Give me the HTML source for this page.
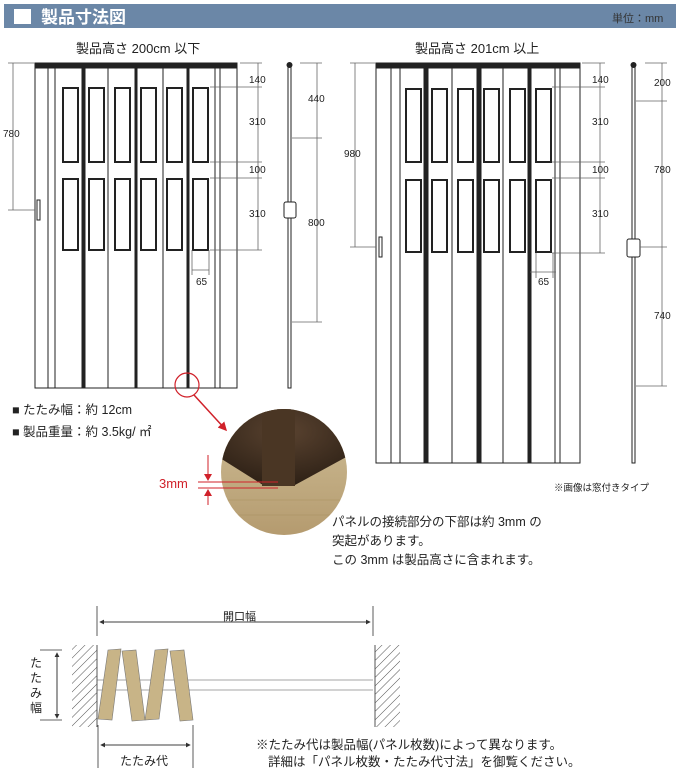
<!DOCTYPE html>
<html><head><meta charset="utf-8"><style>
body{margin:0;background:#fff;width:680px;height:772px;overflow:hidden;font-family:"Liberation Sans","Noto Sans CJK JP",sans-serif}
svg text{font-family:"Liberation Sans","Noto Sans CJK JP",sans-serif}
</style></head><body>
<svg width="680" height="772" viewBox="0 0 680 772" xmlns="http://www.w3.org/2000/svg">
<defs>
<pattern id="h" width="6" height="6" patternUnits="userSpaceOnUse" patternTransform="rotate(45)"><line x1="0" y1="0" x2="0" y2="6" stroke="#555" stroke-width="1"/></pattern>
<radialGradient id="dk" cx="0.5" cy="0.3" r="0.7"><stop offset="0" stop-color="#5a4330"/><stop offset="1" stop-color="#2e2116"/></radialGradient>
<linearGradient id="wd" x1="0" y1="0" x2="0" y2="1"><stop offset="0" stop-color="#cfbf98"/><stop offset="1" stop-color="#b49a6e"/></linearGradient>
<clipPath id="cc"><circle cx="284" cy="472" r="63"/></clipPath>
<marker id="ar" markerWidth="6" markerHeight="6" refX="5" refY="3" orient="auto"><path d="M0,0 L6,3 L0,6 z" fill="#333"/></marker>
<marker id="ra" markerWidth="6" markerHeight="6" refX="5" refY="3" orient="auto"><path d="M0,0 L6,3 L0,6 z" fill="#d0212a"/></marker>
</defs>
<!-- header -->
<rect x="4" y="4" width="672" height="24" fill="#6b87a7"/>
<rect x="14" y="9" width="17" height="15" fill="#fff"/>
<text x="41" y="23" font-size="17" font-weight="bold" fill="#fff">製品寸法図</text>
<text x="612" y="22" font-size="11" fill="#333">単位：mm</text>

<text x="76" y="53" font-size="13" fill="#222">製品高さ 200cm 以下</text>
<text x="415" y="53" font-size="13" fill="#222">製品高さ 201cm 以上</text>

<g stroke="#222" fill="none" stroke-width="1">
<!-- left door -->
<rect x="35" y="63" width="202" height="325" fill="#fff"/>
<rect x="35" y="63" width="202" height="5" fill="#222"/>
<path d="M48 68V388M55 68V388M108 68V388M163 68V388M215 68V388M220 68V388"/>
<rect x="82" y="68" width="3" height="320" fill="#222"/>
<rect x="135" y="68" width="2" height="320" fill="#222"/>
<rect x="187" y="68" width="2" height="320" fill="#222"/>
<g stroke-width="2">
<rect x="63" y="88" width="15" height="74"/><rect x="89" y="88" width="15" height="74"/><rect x="115" y="88" width="15" height="74"/><rect x="141" y="88" width="15" height="74"/><rect x="167" y="88" width="15" height="74"/><rect x="193" y="88" width="15" height="74"/>
<rect x="63" y="179" width="15" height="71"/><rect x="89" y="179" width="15" height="71"/><rect x="115" y="179" width="15" height="71"/><rect x="141" y="179" width="15" height="71"/><rect x="167" y="179" width="15" height="71"/><rect x="193" y="179" width="15" height="71"/>
</g>
<rect x="37" y="200" width="3" height="20" fill="#fff"/>
<path d="M13 63V210M8 63H35M8 210H35" stroke="#666" stroke-width="0.8"/>
<path d="M258 63V250M240 63H262M210 87H262M210 162H262M210 178H262M210 250H262M192 250V275M209 250V275M192 270H209" stroke="#666" stroke-width="0.8"/>
<!-- left side -->
<rect x="288" y="66" width="3" height="322" fill="#fff"/>
<circle cx="289.5" cy="65" r="2.5" fill="#222"/>
<rect x="284" y="202" width="12" height="16" rx="2" fill="#fff"/>
<path d="M317 63V322M300 63H322M292 138H322M292 322H322" stroke="#666" stroke-width="0.8"/>
<!-- right door -->
<rect x="376" y="63" width="204" height="400" fill="#fff"/>
<rect x="376" y="63" width="204" height="5" fill="#222"/>
<path d="M391 68V463M400 68V463M452 68V463M503 68V463M555 68V463M560 68V463"/>
<rect x="424" y="68" width="4" height="395" fill="#222"/>
<rect x="477" y="68" width="4" height="395" fill="#222"/>
<rect x="528" y="68" width="3" height="395" fill="#222"/>
<g stroke-width="2">
<rect x="406" y="89" width="15" height="73"/><rect x="432" y="89" width="15" height="73"/><rect x="458" y="89" width="15" height="73"/><rect x="484" y="89" width="15" height="73"/><rect x="510" y="89" width="15" height="73"/><rect x="536" y="89" width="15" height="73"/>
<rect x="406" y="180" width="15" height="72"/><rect x="432" y="180" width="15" height="72"/><rect x="458" y="180" width="15" height="72"/><rect x="484" y="180" width="15" height="72"/><rect x="510" y="180" width="15" height="72"/><rect x="536" y="180" width="15" height="72"/>
</g>
<rect x="379" y="237" width="3" height="20" fill="#fff"/>
<path d="M355 63V247M350 63H376M350 247H376" stroke="#666" stroke-width="0.8"/>
<path d="M600 63V253M582 63H605M552 87H605M552 162H605M552 178H605M552 253H605M536 253V278M553 253V278M530 272H556" stroke="#666" stroke-width="0.8"/>
<!-- right side -->
<rect x="632" y="66" width="3" height="397" fill="#fff"/>
<circle cx="633.5" cy="65" r="2.5" fill="#222"/>
<rect x="627" y="239" width="13" height="18" rx="2" fill="#fff"/>
<path d="M662 63V386M645 63H667M636 101H667M640 247H667M636 386H667" stroke="#666" stroke-width="0.8"/>
</g>
<g font-size="10" fill="#222">
<text x="3" y="137">780</text>
<text x="249" y="83">140</text><text x="249" y="125">310</text><text x="249" y="173">100</text><text x="249" y="217">310</text><text x="196" y="285">65</text>
<text x="308" y="102">440</text><text x="308" y="226">800</text>
<text x="344" y="157">980</text>
<text x="592" y="83">140</text><text x="592" y="125">310</text><text x="592" y="173">100</text><text x="592" y="217">310</text><text x="538" y="285">65</text>
<text x="654" y="86">200</text><text x="654" y="173">780</text><text x="654" y="319">740</text>
</g>
<!-- red callout -->
<circle cx="187" cy="385" r="12" fill="none" stroke="#d0212a" stroke-width="1.2"/>
<line x1="194" y1="395" x2="226" y2="430" stroke="#d0212a" stroke-width="1.5" marker-end="url(#ra)"/>
<!-- photo -->
<g clip-path="url(#cc)">
<rect x="220" y="408" width="130" height="130" fill="url(#wd)"/>
<path d="M220 408H350V455L295 485H263L220 458Z" fill="url(#dk)"/>
<rect x="262" y="408" width="33" height="78" fill="#4a3624"/>
<path d="M220 500H350M220 515H350" stroke="#a8905f" stroke-width="0.6"/>
</g>
<g stroke="#d0212a" stroke-width="1">
<path d="M198 482H278M198 488H278M208 455V480M208 490V505"/>
</g>
<path d="M204 474L208 481L212 474ZM204 496L208 489L212 496Z" fill="#d0212a"/>
<text x="159" y="488" font-size="13" fill="#d0212a">3mm</text>

<g font-size="12.5" fill="#222">
<text x="12" y="414">■ たたみ幅：約 12cm</text>
<text x="12" y="436">■ 製品重量：約 3.5kg/ ㎡</text>
<text x="332" y="526">パネルの接続部分の下部は約 3mm の</text>
<text x="332" y="545">突起があります。</text>
<text x="332" y="564">この 3mm は製品高さに含まれます。</text>
</g>
<text x="554" y="491" font-size="9.5" fill="#222">※画像は窓付きタイプ</text>

<!-- bottom diagram -->
<g stroke="#333" stroke-width="0.8" fill="none">
<path d="M97 606V636M373 606V636"/>
<line x1="100" y1="622" x2="370" y2="622" marker-end="url(#ar)"/>
<line x1="370" y1="622" x2="100" y2="622" marker-end="url(#ar)"/>
<path d="M97 680H373M97 690H373" stroke="#888"/>
<path d="M40 650H62M40 720H62"/>
<line x1="57" y1="653" x2="57" y2="718" marker-end="url(#ar)"/>
<line x1="57" y1="718" x2="57" y2="653" marker-end="url(#ar)"/>
<path d="M98 725V768M193 725V768"/>
<line x1="101" y1="745" x2="190" y2="745" marker-end="url(#ar)"/>
<line x1="190" y1="745" x2="101" y2="745" marker-end="url(#ar)"/>
</g>
<rect x="72" y="645" width="25" height="82" fill="url(#h)"/>
<line x1="97" y1="645" x2="97" y2="727" stroke="#555"/>
<rect x="375" y="645" width="25" height="82" fill="url(#h)"/>
<line x1="375" y1="645" x2="375" y2="727" stroke="#555"/>
<g fill="#c8b487" stroke="#777" stroke-width="0.6">
<path d="M108 650L121 649L112 720L98 719Z"/>
<path d="M122 651L136 650L145 720L132 721Z"/>
<path d="M155 650L168 649L159 719L145 720Z"/>
<path d="M170 651L184 650L193 720L180 721Z"/>
</g>
<text x="223" y="620" font-size="11" fill="#222">開口幅</text>
<g font-size="12" fill="#222">
<text x="30" y="667">た</text><text x="30" y="682">た</text><text x="30" y="697">み</text><text x="30" y="712">幅</text>
</g>
<text x="120" y="765" font-size="12" fill="#222">たたみ代</text>
<g font-size="12.5" fill="#222">
<text x="256" y="749">※たたみ代は製品幅(パネル枚数)によって異なります。</text>
<text x="268" y="766">詳細は「パネル枚数・たたみ代寸法」を御覧ください。</text>
</g>
</svg>
</body></html>
